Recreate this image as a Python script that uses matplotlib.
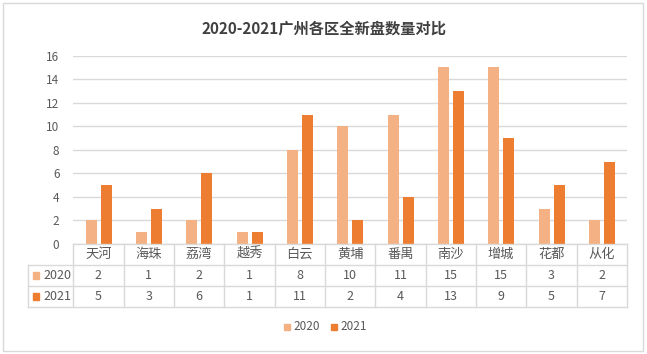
import numpy as np
import matplotlib.pyplot as plt
from matplotlib.patches import Rectangle

plt.rcParams['font.family'] = ['Noto Sans CJK SC', 'DejaVu Sans']

# data
districts = ['天河', '海珠', '荔湾', '越秀', '白云', '黄埔', '番禺', '南沙', '增城', '花都', '从化']
y2020 = [2, 1, 2, 1, 8, 10, 11, 15, 15, 3, 2]
y2021 = [5, 3, 6, 1, 11, 2, 4, 13, 9, 5, 7]
series_names = ['2020', '2021']
colors = ['#F4B183', '#ED7D31']

txt = '#595959'
grid = '#D9D9D9'

W, H = 647, 354
fig = plt.figure(figsize=(W / 100, H / 100), dpi=100)

def fx(px):
    return px / W

def fy(py):
    return 1 - py / H

# border round the chart
fig.patches.append(Rectangle((fx(3), fy(351)), fx(640), 348 / H, transform=fig.transFigure,
                             fill=False, edgecolor='#D9D9D9', linewidth=1))

left, right = 73.3, 627
top, zero = 55.7, 244
ax = fig.add_axes([fx(left), fy(zero), fx(right - left), (zero - top) / H])

x = np.arange(len(districts))
bw = 0.22
ax.bar(x - 0.145, y2020, width=bw, color=colors[0], zorder=3)
ax.bar(x + 0.155, y2021, width=bw, color=colors[1], zorder=3)

ax.set_xlim(-0.5, len(districts) - 0.5)
ax.set_ylim(0, 16)
ax.set_yticks(range(0, 17, 2))
ax.yaxis.grid(True, color=grid, linewidth=1)
ax.set_axisbelow(True)
ax.set_xticks([])
ax.tick_params(axis='y', length=0, pad=10, labelsize=8.5, labelcolor=txt)
for s in ax.spines.values():
    s.set_visible(False)

fig.text(0.5, fy(28), '2020-2021广州各区全新盘数量对比', ha='center', va='center',
         fontsize=11, fontweight='bold', color='#404040')

# data table
row_h = 21
tab = fig.add_axes([fx(left), fy(zero + 3 * row_h), fx(right - left), 3 * row_h / H])
tab.set_xlim(-0.5, len(districts) - 0.5)
tab.set_ylim(3, 0)
tab.axis('off')
unit = (right - left) / len(districts)
lab_left = -0.5 - (left - 28) / unit

kw = dict(color=grid, linewidth=1, clip_on=False)
tab.plot([-0.5, len(districts) - 0.5], [0, 0], **kw)
for r in (1, 2, 3):
    tab.plot([lab_left, len(districts) - 0.5], [r, r], **kw)
for i in range(len(districts) + 1):
    tab.plot([i - 0.5, i - 0.5], [0, 3], **kw)
tab.plot([lab_left, lab_left], [1, 3], **kw)

for i, d in enumerate(districts):
    tab.text(i, 0.5, d, ha='center', va='center', fontsize=9.5, color=txt)
    tab.text(i, 1.5, str(y2020[i]), ha='center', va='center', fontsize=9, color=txt)
    tab.text(i, 2.5, str(y2021[i]), ha='center', va='center', fontsize=9, color=txt)

for r, (name, c) in enumerate(zip(series_names, colors)):
    tab.add_patch(Rectangle((lab_left + 0.1, 1.5 + r - 0.15), 0.12, 0.3, color=c, clip_on=False))
    tab.text(lab_left + 0.3, 1.5 + r, name, ha='left', va='center', fontsize=9, color=txt, clip_on=False)

# legend
for name, c, px in zip(series_names, colors, (284, 331)):
    fig.patches.append(Rectangle((fx(px), fy(330)), fx(6), 6 / H, transform=fig.transFigure, color=c))
    fig.text(fx(px + 9), fy(327), name, ha='left', va='center', fontsize=8.5, color=txt)

fig.savefig('out.png', dpi=100)
